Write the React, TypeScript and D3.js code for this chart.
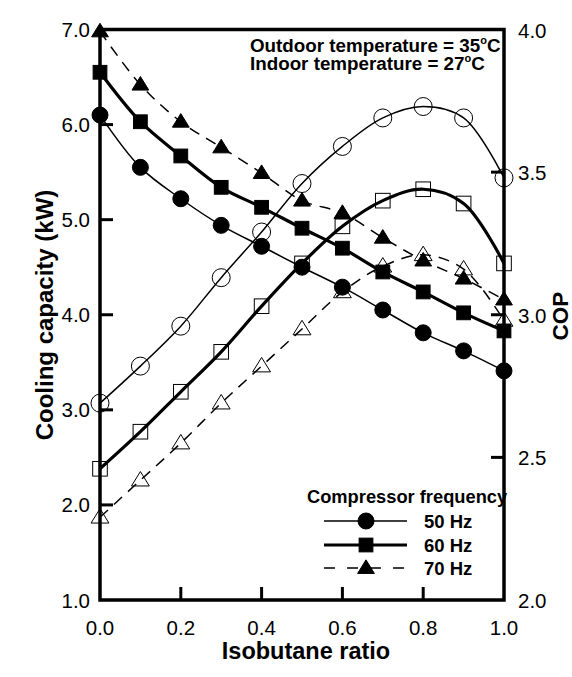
import React from "react";
import * as d3 from "d3";

const ratio = [0, 0.1, 0.2, 0.3, 0.4, 0.5, 0.6, 0.7, 0.8, 0.9, 1.0];
const cap50 = [6.10, 5.55, 5.22, 4.94, 4.72, 4.50, 4.29, 4.05, 3.81, 3.62, 3.41];
const cap60 = [6.55, 6.03, 5.67, 5.34, 5.13, 4.91, 4.70, 4.45, 4.24, 4.02, 3.83];
const cap70 = [6.98, 6.42, 6.03, 5.76, 5.49, 5.20, 5.07, 4.81, 4.57, 4.38, 4.16];
const cop50 = [2.69, 2.82, 2.96, 3.13, 3.29, 3.46, 3.59, 3.69, 3.73, 3.69, 3.48];
const cop60 = [2.46, 2.59, 2.73, 2.87, 3.03, 3.18, 3.31, 3.40, 3.44, 3.39, 3.18];
const cop70 = [2.29, 2.42, 2.55, 2.69, 2.82, 2.95, 3.08, 3.17, 3.21, 3.16, 2.98];

const xTicks = [0, 0.2, 0.4, 0.6, 0.8, 1.0];
const leftTicks = [1, 2, 3, 4, 5, 6, 7];
const rightTicks = [2.0, 2.5, 3.0, 3.5, 4.0];
const legendLabels = ["50 Hz", "60 Hz", "70 Hz"];

const FONT = "'Liberation Sans', Arial, Helvetica, sans-serif";

const x = d3.scaleLinear().domain([0, 1]).range([100, 504]);
const yL = d3.scaleLinear().domain([1, 7]).range([600, 29.5]);
const yR = d3.scaleLinear().domain([2, 4]).range([600, 29.5]);

type Shape = "circle" | "square" | "triangle";

function Marker({ shape, cx, cy, filled, size }: { shape: Shape; cx: number; cy: number; filled: boolean; size: number }) {
  const fill = filled ? "#000" : "none";
  const stroke = "#000";
  const sw = 1;
  if (shape === "circle") return <circle cx={cx} cy={cy} r={size / 2} fill={fill} stroke={stroke} strokeWidth={sw} />;
  if (shape === "square")
    return <rect x={cx - size * 0.43} y={cy - size * 0.43} width={size * 0.86} height={size * 0.86} fill={fill} stroke={stroke} strokeWidth={sw} />;
  const h = size * 0.85;
  const w = size * 1.05;
  const p = `M${cx},${cy - h * 0.6} L${cx + w / 2},${cy + h * 0.4} L${cx - w / 2},${cy + h * 0.4} Z`;
  return <path d={p} fill={fill} stroke={stroke} strokeWidth={sw} />;
}

export default function App() {
  const lineL = d3.line<number>().x((_, i) => x(ratio[i])).y((d) => yL(d)).curve(d3.curveCatmullRom.alpha(0.5));
  const lineR = d3.line<number>().x((_, i) => x(ratio[i])).y((d) => yR(d)).curve(d3.curveCatmullRom.alpha(0.5));

  const series = [
    { cap: cap50, cop: cop50, shape: "circle" as Shape, width: 1.5, dash: undefined as string | undefined },
    { cap: cap60, cop: cop60, shape: "square" as Shape, width: 3.2, dash: undefined },
    { cap: cap70, cop: cop70, shape: "triangle" as Shape, width: 1.5, dash: "11,8" },
  ];

  const legendY = [521, 545, 568];

  return (
    <svg width={572} height={677} style={{ position: "absolute", left: 0, top: 0, background: "#fff" }} fontFamily={FONT}>
      <rect x={0} y={0} width={572} height={677} fill="#fff" />
      {series.map((s, k) => (
        <g key={"l" + k}>
          <path d={lineL(s.cap) || ""} fill="none" stroke="#000" strokeWidth={s.width} strokeDasharray={s.dash} />
          <path d={lineR(s.cop) || ""} fill="none" stroke="#000" strokeWidth={s.width} strokeDasharray={s.dash} />
        </g>
      ))}
      {series.map((s, k) => (
        <g key={"m" + k}>
          {s.cop.map((v, i) => (
            <Marker key={"o" + i} shape={s.shape} cx={x(ratio[i])} cy={yR(v)} filled={false} size={s.shape === "circle" ? 18 : 17} />
          ))}
          {s.cap.map((v, i) => (
            <Marker key={"f" + i} shape={s.shape} cx={x(ratio[i])} cy={yL(v)} filled={true} size={16} />
          ))}
        </g>
      ))}
      <rect x={x(0)} y={yL(7)} width={x(1) - x(0)} height={yL(1) - yL(7)} fill="none" stroke="#000" strokeWidth={3.5} />
      {leftTicks.filter((t) => t > 1 && t < 7).map((t) => (
        <line key={"lt" + t} x1={x(0)} x2={x(0) + 13} y1={yL(t)} y2={yL(t)} stroke="#000" strokeWidth={3} />
      ))}
      {rightTicks.filter((t) => t > 2 && t < 4).map((t) => (
        <line key={"rt" + t} x1={x(1)} x2={x(1) - 13} y1={yR(t)} y2={yR(t)} stroke="#000" strokeWidth={3} />
      ))}
      {xTicks.filter((t) => t > 0 && t < 1).map((t) => (
        <line key={"xt" + t} x1={x(t)} x2={x(t)} y1={yL(1)} y2={yL(1) - 13} stroke="#000" strokeWidth={3} />
      ))}
      {leftTicks.map((t) => (
        <text key={"ll" + t} x={90} y={yL(t) + 7.5} textAnchor="end" fontSize={20.5}>{t.toFixed(1)}</text>
      ))}
      {rightTicks.map((t) => (
        <text key={"rl" + t} x={518} y={yR(t) + 8} textAnchor="start" fontSize={20.5}>{t.toFixed(1)}</text>
      ))}
      {xTicks.map((t) => (
        <text key={"xl" + t} x={x(t)} y={635} textAnchor="middle" fontSize={20.5}>{t.toFixed(1)}</text>
      ))}
      <text x={306} y={659} textAnchor="middle" fontSize={23.5} fontWeight="bold">Isobutane ratio</text>
      <text transform="translate(53,315) rotate(-90)" textAnchor="middle" fontSize={24} fontWeight="bold">Cooling capacity (kW)</text>
      <text transform="translate(568,316) rotate(-90)" textAnchor="middle" fontSize={22.5} fontWeight="bold">COP</text>
      <text x={250} y={52} fontSize={18.8} fontWeight="bold">
        Outdoor temperature = 35<tspan fontSize={11} dy={-8}>o</tspan><tspan dy={8}>C</tspan>
      </text>
      <text x={250} y={70} fontSize={18.8} fontWeight="bold">
        Indoor temperature = 27<tspan fontSize={11} dy={-8}>o</tspan><tspan dy={8}>C</tspan>
      </text>
      <text x={307} y={503} fontSize={18.3} fontWeight="bold">Compressor frequency</text>
      {series.map((s, k) => (
        <g key={"lg" + k}>
          <line x1={324} x2={407} y1={legendY[k]} y2={legendY[k]} stroke="#000" strokeWidth={s.width} strokeDasharray={s.dash ? "11,12" : undefined} />
          <Marker shape={s.shape} cx={366} cy={legendY[k]} filled={true} size={16} />
          <text x={424} y={legendY[k] + 7} fontSize={18.5} fontWeight="bold">{legendLabels[k]}</text>
        </g>
      ))}
    </svg>
  );
}
